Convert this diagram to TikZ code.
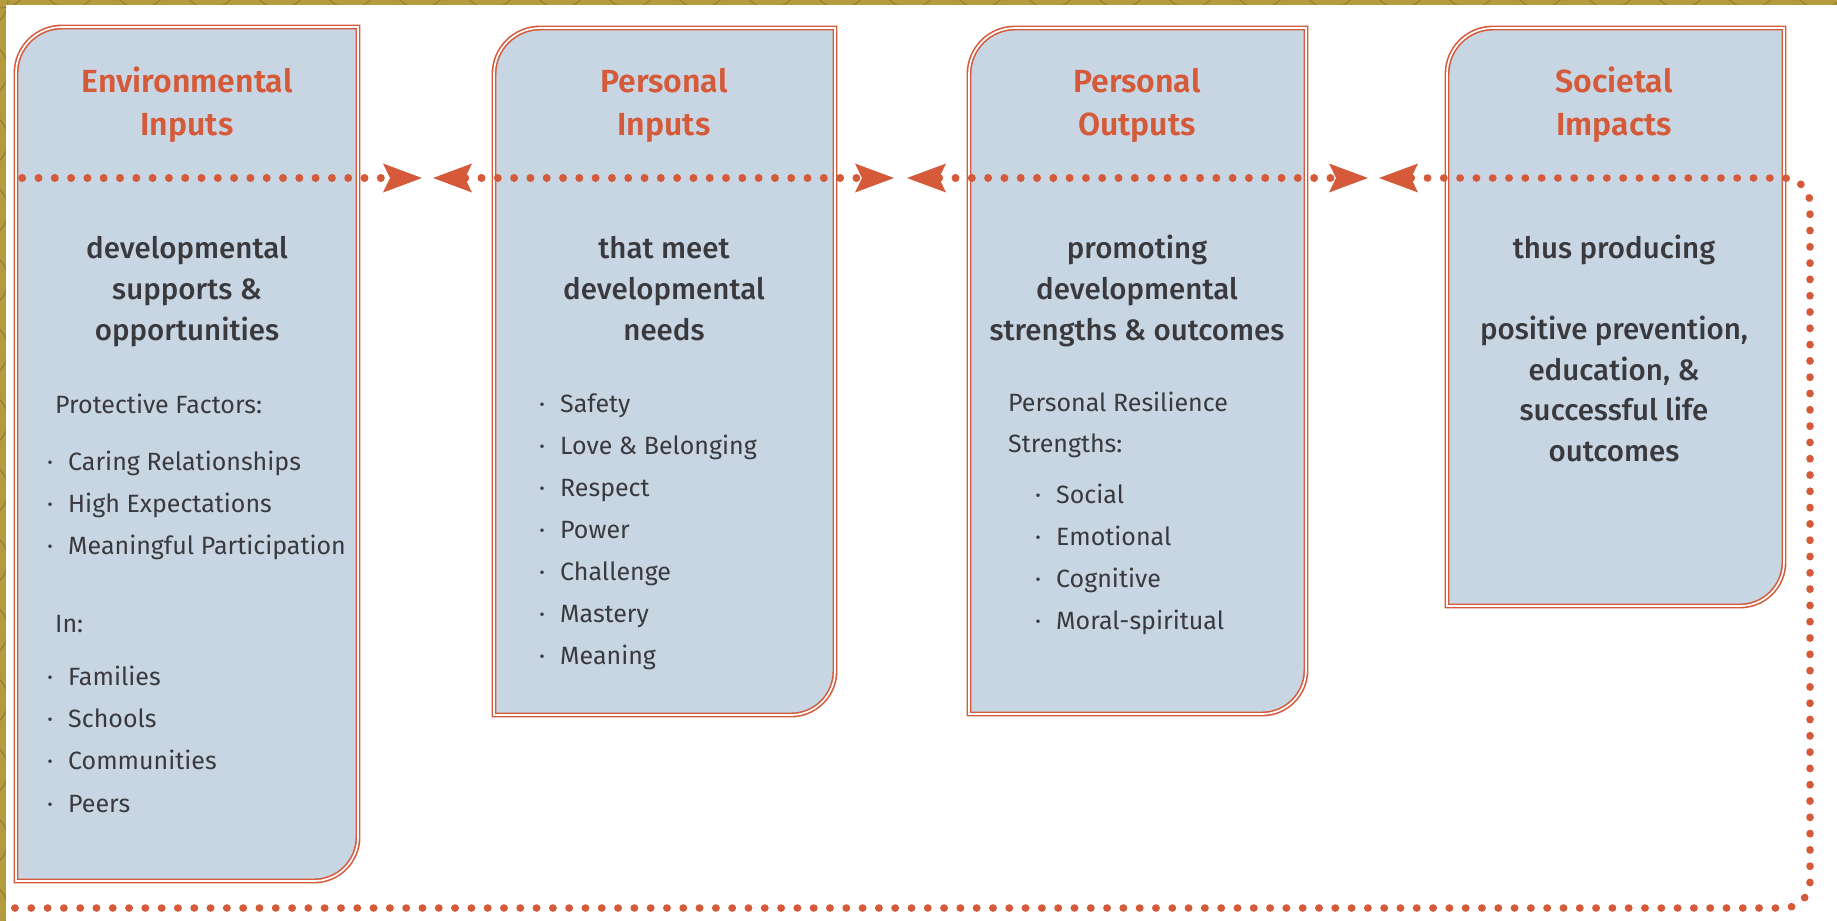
\documentclass[tikz,border=0pt]{standalone}
\usepackage{fontspec}
\setmainfont{Fira Sans}
\newfontfamily\headfont{Fira Sans SemiBold}
\newfontfamily\leadfont{Fira Sans Medium}
\usetikzlibrary{arrows.meta}
\definecolor{rust}{RGB}{212,90,58}
\definecolor{panelblue}{RGB}{200,214,227}
\definecolor{ink}{RGB}{58,58,62}
\definecolor{gold}{RGB}{180,156,62}
\newcommand\listdot{\makebox[21pt][l]{·}}
\tikzset{
  panel/.style={draw=rust, double=white, line width=1.6pt, double distance=1.7pt, fill=panelblue},
  head/.style={text=rust, font=\headfont\fontsize{32}{32}\selectfont, anchor=base, inner sep=0pt},
  lead/.style={text=ink, font=\leadfont\fontsize{29.5}{29.5}\selectfont, anchor=base, inner sep=0pt},
  item/.style={text=ink, font=\fontsize{25}{25}\selectfont, anchor=base west, inner sep=0pt},
  dots/.style={rust, line width=7.5pt, line cap=round, dash pattern=on 0.4pt off 15.9pt},
  fwd/.style={-{Stealth[length=39pt,width=29pt,inset=7pt,line width=0pt]}},
  bwd/.style={{Stealth[length=39pt,width=29pt,inset=7pt,line width=0pt]}-},
  both/.style={{Stealth[length=39pt,width=29pt,inset=7pt,line width=0pt]}-{Stealth[length=39pt,width=29pt,inset=7pt,line width=0pt]}}
}
\begin{document}
\begin{tikzpicture}[x=1pt,y=-1pt]
\useasboundingbox (0,0) rectangle (1837,921);

% the four panels
\foreach \xa/\ya/\xb/\yb in {16/27/358/881, 494/28/835/715, 969/28/1306/714, 1447/28/1784/606}
  \draw[panel] (\xa,\yb) -- (\xa,{\ya+46}) .. controls (\xa,{\ya+20.6}) and ({\xa+20.6},\ya) .. ({\xa+46},\ya)
    -- (\xb,\ya) -- (\xb,{\yb-44}) .. controls (\xb,{\yb-19.7}) and ({\xb-19.7},\yb) .. ({\xb-44},\yb) -- cycle;

% headings
\node[head] (env-h1) at (187,92) {Environmental};
\node[head] (env-h2) at (187,135) {Inputs};
\node[head] (pin-h1) at (664,92) {Personal};
\node[head] (pin-h2) at (664,135) {Inputs};
\node[head] (pout-h1) at (1137,92) {Personal};
\node[head] (pout-h2) at (1137,135) {Outputs};
\node[head] (soc-h1) at (1614,92) {Societal};
\node[head] (soc-h2) at (1614,135) {Impacts};

% lead phrases
\foreach \t [count=\i] in {developmental, supports \&, opportunities}
  \node[lead] (env-l\i) at (187,{217+41*\i}) {\t};
\foreach \t [count=\i] in {that meet, developmental, needs}
  \node[lead] (pin-l\i) at (664,{217+41*\i}) {\t};
\foreach \t [count=\i] in {promoting, developmental, strengths \& outcomes}
  \node[lead] (pout-l\i) at (1137,{217+41*\i}) {\t};
\node[lead] (soc-l1) at (1614,258) {thus producing};
\foreach \t [count=\i] in {{positive prevention,}, {education, \&}, successful life, outcomes}
  \node[lead] (soc-l\i) at (1614,{299+40.5*\i}) {\t};

% environmental inputs list
\node[item] (env-pf) at (55,413) {Protective Factors:};
\foreach \t [count=\i] in {Caring Relationships, High Expectations, Meaningful Participation}
  \node[item] (env-a\i) at (47,{428+42*\i}) {\listdot\t};
\node[item] (env-in) at (55,632) {In:};
\foreach \t [count=\i] in {Families, Schools, Communities, Peers}
  \node[item] (env-b\i) at (47,{643+42.3*\i}) {\listdot\t};

% personal inputs list
\foreach \t [count=\i] in {Safety, Love \& Belonging, Respect, Power, Challenge, Mastery, Meaning}
  \node[item] (pin-a\i) at (539,{370+42*\i}) {\listdot\t};

% personal outputs list
\node[item] (pout-r1) at (1008,411) {Personal Resilience};
\node[item] (pout-r2) at (1008,452) {Strengths:};
\foreach \t [count=\i] in {Social, Emotional, Cognitive, Moral-spiritual}
  \node[item] (pout-a\i) at (1035,{461+42*\i}) {\listdot\t};

% dotted loop
\coordinate (start) at (22,178);
\coordinate (g1r) at (422,178);
\coordinate (g1l) at (433,178);
\coordinate (g2r) at (894,178);
\coordinate (g2l) at (907,178);
\coordinate (g3r) at (1368,178);
\coordinate (g3l) at (1379,178);
\coordinate (ne) at (1810,178);
\coordinate (se) at (1810,908);
\coordinate (back) at (0,908);
\draw[dots, fwd] (start) -- (g1r);
\draw[dots, both] (g1l) -- (g2r);
\draw[dots, both] (g2l) -- (g3r);
\draw[dots, bwd, rounded corners=26pt] (g3l) -- (ne) -- (se) -- (back);

% gold frame strips
\fill[gold] (0,0) rectangle (1837,4.5);
\fill[gold] (0,0) rectangle (6,921);
\begin{scope}
  \clip (0,0) rectangle (1837,4.5) (0,0) rectangle (6,921);
  \foreach \x in {0,70,...,1840}
    \draw[gold!75!black, line width=0.8pt] (\x,-22) circle (30);
  \foreach \y in {0,70,...,930}
    \draw[gold!75!black, line width=0.8pt] (-22,\y) circle (30);
\end{scope}
\end{tikzpicture}
\end{document}
